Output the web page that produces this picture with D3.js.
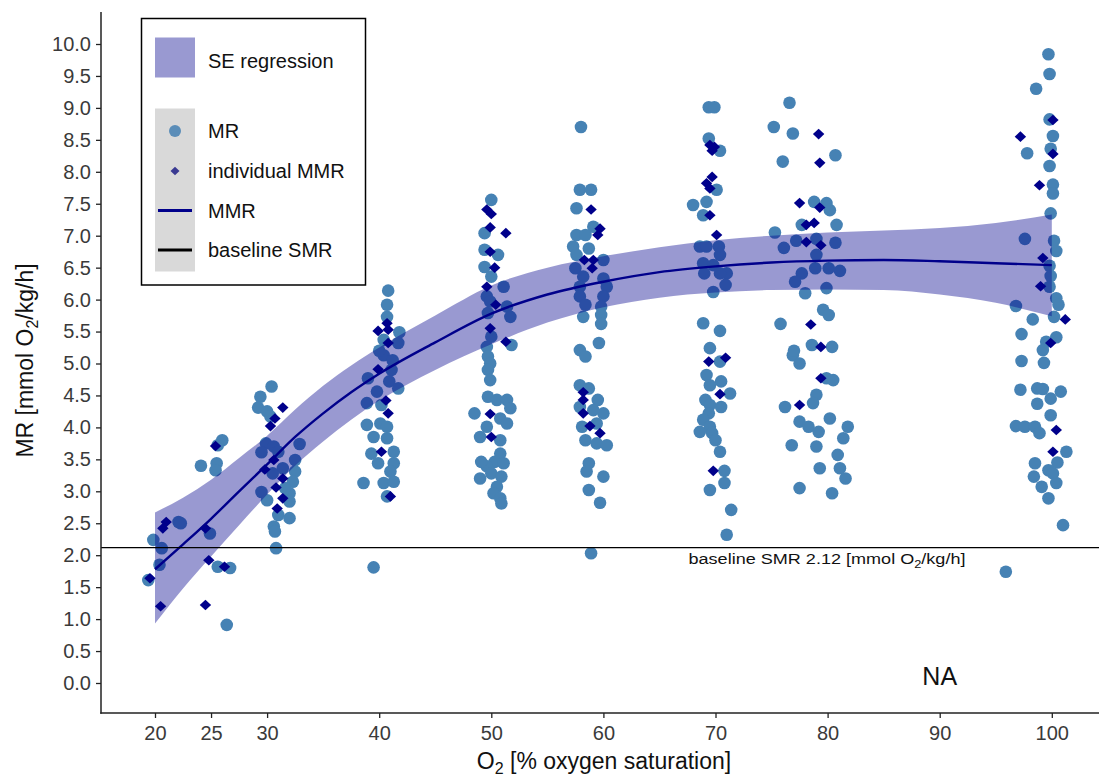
<!DOCTYPE html>
<html>
<head>
<meta charset="utf-8">
<script src="https://cdn.jsdelivr.net/npm/d3@7/dist/d3.min.js"></script>
<style>
  html, body { margin: 0; padding: 0; background: #fff; }
  svg { display: block; font-family: "Liberation Sans", Arial, sans-serif; }
</style>
</head>
<body>
<svg id="chart" width="1099" height="778"></svg>
<script>
// ---- data -------------------------------------------------------------
// Measured metabolic rate per trial: [O2 % saturation, MR mmol O2/kg/h]
const mrPoints = [
  [19.85,2.24],[20.6,2.11],[20.4,1.85],[19.4,1.61],[22.1,2.52],[22.3,2.50],[24.1,3.40],[25.5,3.44],
  [25.4,3.33],[26.0,3.80],[25.6,3.72],[24.9,2.34],[25.6,1.82],[26.7,1.80],[26.4,0.91],
  [30.4,4.64],[29.4,4.48],[29.2,4.31],[30.0,4.25],[30.3,4.17],[29.9,3.75],[30.6,3.70],[32.9,3.74],
  [32.5,3.49],[31.0,3.62],[31.4,3.36],[32.5,3.31],[32.3,3.15],[29.5,2.99],[30.0,2.86],[32.0,2.97],
  [32.0,2.84],[31.0,2.63],[32.0,2.58],[30.6,2.45],[30.7,2.37],[30.8,2.11],[29.5,3.61],[30.5,3.28],[31.6,3.05],
  [40.8,6.14],[40.7,5.92],[40.7,5.73],[41.8,5.49],[40.4,5.37],[41.7,5.32],[40.4,5.13],[41.1,4.90],
  [39.0,4.77],[40.9,4.72],[41.7,4.61],[39.8,4.56],[38.9,4.38],[40.2,4.35],[38.9,4.04],[40.1,4.06],
  [40.7,4.01],[39.5,3.85],[40.7,3.83],[41.3,3.62],[39.3,3.59],[39.9,3.44],[41.3,3.44],[41.0,3.31],
  [38.6,3.13],[40.4,3.13],[41.3,3.15],[40.7,2.92],[39.5,1.81],[41.2,5.05],[40.0,5.20],
  [50.0,7.56],[49.4,7.04],[49.4,6.78],[50.6,6.70],[49.4,6.51],[50.0,6.36],[51.1,6.20],[49.6,6.05],
  [49.9,5.97],[51.4,5.89],[49.7,5.79],[51.7,5.73],[50.0,5.42],[51.8,5.29],[49.6,5.26],[49.7,5.11],
  [49.9,5.00],[49.7,4.90],[49.9,4.74],[49.7,4.48],[50.5,4.43],[51.4,4.43],[51.7,4.30],[48.5,4.22],
  [50.8,4.14],[51.4,4.06],[49.6,4.01],[49.0,3.85],[50.8,3.80],[50.8,3.59],[50.3,3.46],[51.1,3.44],
  [49.6,3.39],[49.1,3.46],[49.0,3.20],[50.0,3.28],[50.9,3.23],[50.5,3.07],[50.2,2.97],[50.8,2.89],[50.9,2.81],
  [57.9,7.72],[58.9,7.72],[57.6,7.43],[59.1,7.14],[57.6,7.01],[58.4,7.01],[57.3,6.83],[58.7,6.80],
  [57.6,6.70],[60.0,6.62],[57.5,6.49],[58.2,6.36],[60.0,6.33],[57.9,6.20],[60.3,6.20],[57.9,6.05],
  [60.0,6.05],[58.4,5.92],[59.8,5.89],[58.2,5.73],[59.8,5.76],[59.8,5.62],[59.6,5.32],[57.9,5.21],
  [58.4,5.11],[57.9,4.66],[58.7,4.61],[59.5,4.43],[57.9,4.32],[60.0,4.22],[59.1,4.27],[59.4,4.06],
  [58.1,4.01],[58.4,3.80],[59.4,3.75],[60.3,3.72],[58.7,3.44],[58.5,3.31],[60.0,3.23],[58.7,3.02],
  [59.7,2.82],[58.9,2.03],[58.0,8.70],
  [69.4,9.01],[69.9,9.01],[69.4,8.52],[70.4,8.33],[70.1,7.72],[68.0,7.48],[69.2,7.53],[68.9,7.32],
  [68.6,6.83],[69.2,6.83],[70.3,6.83],[70.4,6.70],[68.9,6.57],[69.8,6.54],[71.0,6.41],[70.4,6.41],
  [69.0,6.41],[70.9,6.23],[69.8,6.12],[68.9,5.63],[70.4,5.51],[69.5,5.24],[70.4,5.03],[69.2,4.82],
  [70.5,4.72],[69.5,4.66],[71.3,4.53],[69.1,4.43],[69.5,4.35],[70.5,4.32],[69.4,4.22],[68.9,4.12],
  [69.5,4.01],[68.6,3.93],[69.7,3.91],[70.0,3.80],[70.4,3.62],[70.8,3.32],[70.8,3.13],[69.5,3.02],
  [71.4,2.71],[71.0,2.32],
  [76.6,9.08],[75.2,8.70],[76.9,8.60],[76.0,8.16],[80.7,8.26],[78.8,7.53],[79.9,7.51],[80.2,7.40],
  [77.7,7.17],[80.8,7.17],[75.3,7.05],[76.1,6.81],[77.2,6.92],[80.7,6.89],[79.0,6.70],[78.9,6.49],
  [80.1,6.49],[81.1,6.45],[77.7,6.41],[77.1,6.28],[78.0,6.10],[79.9,6.18],[79.6,5.84],[80.1,5.76],
  [75.8,5.62],[76.9,5.13],[77.5,5.00],[78.6,5.29],[80.4,5.26],[79.9,4.77],[80.5,4.74],[79.0,4.51],
  [78.7,4.38],[76.2,4.32],[77.5,4.09],[78.3,4.01],[79.2,3.93],[80.2,4.14],[81.8,4.01],[81.4,3.83],
  [76.8,3.72],[79.0,3.70],[80.9,3.57],[79.3,3.36],[81.1,3.36],[81.6,3.20],[77.5,3.05],[80.4,2.97],
  [79.0,6.95],[77.0,5.20],
  [99.7,9.84],[99.8,9.53],[98.6,9.30],[99.8,8.82],[100.1,8.56],[97.8,8.29],[99.9,8.36],[99.8,8.09],
  [100.1,7.80],[100.1,7.66],[99.9,7.35],[97.6,6.95],[100.2,6.92],[100.4,6.76],[99.8,6.53],[99.9,6.37],
  [99.8,6.20],[100.4,6.02],[100.6,5.92],[100.2,5.73],[96.8,5.90],[98.3,5.69],[97.3,5.46],[100.4,5.41],
  [99.5,5.34],[99.2,5.21],[97.3,5.04],[99.3,5.01],[97.2,4.59],[98.7,4.61],[99.2,4.60],[100.8,4.56],
  [99.9,4.45],[98.7,4.37],[99.9,4.19],[96.8,4.02],[97.6,4.01],[98.5,4.01],[98.9,3.91],[101.3,3.62],
  [100.5,3.45],[98.5,3.44],[99.7,3.33],[98.4,3.23],[100.1,3.28],[99.1,3.07],[100.4,3.13],[99.7,2.89],
  [101.0,2.47],[95.9,1.74]
];

// Individual maximum metabolic rates
const mmrPoints = [
  [21.0,2.52],[20.7,2.42],[24.5,2.42],[19.55,1.64],[20.5,1.20],[24.8,1.92],[26.2,1.82],[24.5,1.22],[25.4,3.71],
  [31.4,4.31],[30.7,4.14],[30.3,4.02],[30.6,3.49],[29.8,3.34],[31.4,3.20],[30.8,3.06],[31.4,2.89],[30.9,2.73],
  [39.9,5.51],[40.7,5.63],[40.8,5.53],[40.8,5.32],[39.9,4.91],[40.6,4.42],[40.8,4.22],[40.2,3.62],[41.0,2.92],
  [49.6,7.41],[50.0,7.34],[49.9,7.13],[51.3,7.04],[49.9,6.75],[50.3,6.50],[49.6,6.20],[50.4,5.92],
  [49.9,5.55],[51.3,5.34],[49.9,4.21],[50.0,3.85],
  [58.9,7.41],[59.7,7.11],[59.5,7.01],[58.3,6.62],[59.1,6.62],[59.0,6.49],[58.2,4.55],[58.2,4.43],
  [58.2,4.22],[58.8,4.02],[59.7,3.91],
  [69.5,8.42],[69.7,8.33],[69.9,8.39],[69.7,7.92],[69.2,7.82],[69.5,7.74],[69.5,7.32],[70.1,7.01],
  [69.4,5.03],[70.9,5.09],[70.4,4.52],[69.8,3.32],
  [79.2,8.59],[79.3,8.14],[77.5,7.51],[79.3,7.44],[78.1,7.17],[78.8,7.20],[78.1,6.90],[79.4,6.85],
  [78.5,5.61],[79.4,5.26],[79.4,4.77],[77.5,4.35],
  [100.1,8.81],[97.2,8.55],[100.1,8.28],[98.9,7.79],[99.2,6.65],[99.0,6.21],[101.2,5.69],[99.9,5.32],
  [100.4,3.96],[100.1,3.62]
];

// Fitted MMR curve with its standard-error ribbon
const fitX     = [20, 22.5, 25, 27.5, 30, 32.5, 35, 37.5, 40, 45, 50, 55, 60, 65, 70, 75, 80, 85, 90, 95, 100];
const fitMMR   = [1.78, 2.17, 2.57, 3.00, 3.42, 3.85, 4.22, 4.55, 4.84, 5.33, 5.78, 6.08, 6.28, 6.43, 6.52, 6.58, 6.61, 6.62, 6.60, 6.57, 6.54];
const fitUpper = [2.67, 2.90, 3.18, 3.52, 3.87, 4.28, 4.65, 4.97, 5.25, 5.75, 6.22, 6.50, 6.68, 6.82, 6.93, 7.00, 7.05, 7.08, 7.12, 7.20, 7.33];
const fitLower = [0.93, 1.48, 1.98, 2.47, 2.95, 3.40, 3.78, 4.12, 4.42, 4.90, 5.30, 5.64, 5.88, 6.03, 6.11, 6.15, 6.16, 6.15, 6.08, 5.95, 5.74];

const baselineSMR = 2.12;
const xTicks = [20, 25, 30, 40, 50, 60, 70, 80, 90, 100];
const yTicks = d3.range(0, 10.01, 0.5);

// ---- layout -----------------------------------------------------------
const svg = d3.select("#chart");
const panel = { left: 101, right: 1099, top: 12, bottom: 713 };

const x = d3.scaleLinear().domain([15.183, 104.21]).range([panel.left, panel.right]);
const y = d3.scaleLinear().domain([-0.4695, 10.5008]).range([panel.bottom, panel.top]);

const col = {
  mr: "#4682B4",
  mmr: "#00008B",
  band: "#00008B",
  axis: "#222",
  tick: "#3a3a3a"
};

const plot = svg.append("g");

// MR observations
plot.append("g").selectAll("circle")
  .data(mrPoints)
  .join("circle")
  .attr("cx", d => x(d[0]))
  .attr("cy", d => y(d[1]))
  .attr("r", 6.3)
  .attr("fill", col.mr);

// individual MMR diamonds
const diamond = (cx, cy, hw, hh) => `M${cx},${cy - hh}L${cx + hw},${cy}L${cx},${cy + hh}L${cx - hw},${cy}Z`;
plot.append("g").selectAll("path")
  .data(mmrPoints)
  .join("path")
  .attr("d", d => diamond(x(d[0]), y(d[1]), 5.7, 5.3))
  .attr("fill", col.mmr);

// SE ribbon
const fit = fitX.map((v, i) => ({ x: v, m: fitMMR[i], lo: fitLower[i], hi: fitUpper[i] }));
plot.append("path")
  .datum(fit)
  .attr("d", d3.area().x(d => x(d.x)).y0(d => y(d.lo)).y1(d => y(d.hi)).curve(d3.curveMonotoneX))
  .attr("fill", col.band)
  .attr("fill-opacity", 0.4);

// fitted MMR line
plot.append("path")
  .datum(fit)
  .attr("d", d3.line().x(d => x(d.x)).y(d => y(d.m)).curve(d3.curveMonotoneX))
  .attr("fill", "none")
  .attr("stroke", col.mmr)
  .attr("stroke-width", 2.4);

// baseline SMR
plot.append("line")
  .attr("x1", panel.left).attr("x2", panel.right)
  .attr("y1", y(baselineSMR)).attr("y2", y(baselineSMR))
  .attr("stroke", "#000").attr("stroke-width", 1.3);

const smrLabel = plot.append("text")
  .attr("x", 827)
  .attr("y", y(baselineSMR) + 16)
  .attr("text-anchor", "middle")
  .attr("font-family", "'Liberation Sans Narrow', 'Liberation Sans', Arial, sans-serif")
  .attr("font-size", 15.5)
  .attr("fill", "#111")
  .attr("textLength", 277)
  .attr("lengthAdjust", "spacingAndGlyphs");
smrLabel.append("tspan").text(`baseline SMR ${baselineSMR} [mmol O`);
smrLabel.append("tspan").attr("font-size", 11).attr("dy", 4).text("2");
smrLabel.append("tspan").attr("dy", -4).text("/kg/h]");

// panel tag
plot.append("text")
  .attr("x", x(90))
  .attr("y", 685)
  .attr("text-anchor", "middle")
  .attr("font-size", 25)
  .attr("fill", "#111")
  .text("NA");

// ---- axes -------------------------------------------------------------
const yAxis = svg.append("g")
  .attr("transform", `translate(${panel.left},0)`)
  .call(d3.axisLeft(y).tickValues(yTicks).tickFormat(d3.format(".1f")).tickSize(5).tickPadding(5));
const xAxis = svg.append("g")
  .attr("transform", `translate(0,${panel.bottom})`)
  .call(d3.axisBottom(x).tickValues(xTicks).tickSize(5).tickPadding(8));

[yAxis, xAxis].forEach(g => {
  g.select(".domain").remove();
  g.selectAll(".tick line").attr("stroke", col.axis).attr("stroke-width", 1.3);
  g.selectAll(".tick text")
    .attr("fill", col.tick)
    .attr("font-size", 20)
    .attr("font-family", "'Liberation Sans', Arial, sans-serif");
});

svg.append("line")
  .attr("x1", panel.left).attr("x2", panel.left)
  .attr("y1", panel.top).attr("y2", panel.bottom + 0.75)
  .attr("stroke", col.axis).attr("stroke-width", 1.5);
svg.append("line")
  .attr("x1", panel.left - 0.75).attr("x2", panel.right)
  .attr("y1", panel.bottom).attr("y2", panel.bottom)
  .attr("stroke", col.axis).attr("stroke-width", 1.5);

// axis titles
const xTitle = svg.append("text")
  .attr("x", 604)
  .attr("y", 769)
  .attr("text-anchor", "middle")
  .attr("font-size", 23)
  .attr("fill", "#111");
xTitle.append("tspan").text("O");
xTitle.append("tspan").attr("font-size", 16).attr("dy", 5).text("2");
xTitle.append("tspan").attr("dy", -5).text(" [% oxygen saturation]");

const yTitle = svg.append("text")
  .attr("transform", `translate(33,${(panel.top + panel.bottom) / 2 - 2}) rotate(-90)`)
  .attr("text-anchor", "middle")
  .attr("font-size", 23)
  .attr("fill", "#111");
yTitle.append("tspan").text("MR [mmol O");
yTitle.append("tspan").attr("font-size", 16).attr("dy", 5).text("2");
yTitle.append("tspan").attr("dy", -5).text("/kg/h]");

// ---- legend -----------------------------------------------------------
const lg = svg.append("g");
lg.append("rect")
  .attr("x", 141.5).attr("y", 18.5).attr("width", 224).attr("height", 266.5)
  .attr("fill", "#fff").attr("stroke", "#000").attr("stroke-width", 1.5);

lg.append("rect").attr("x", 155).attr("y", 37.5).attr("width", 40).attr("height", 40)
  .attr("fill", col.band).attr("fill-opacity", 0.4);
lg.append("text").attr("x", 208).attr("y", 61).attr("dy", "0.35em")
  .attr("font-size", 20).attr("fill", "#111").text("SE regression");

lg.append("rect").attr("x", 155).attr("y", 108.5).attr("width", 40).attr("height", 163)
  .attr("fill", "#d9d9d9");

const legendRows = ["MR", "individual MMR", "MMR", "baseline SMR"];
const rowY = [131, 171, 210.5, 250];
lg.append("circle").attr("cx", 175).attr("cy", rowY[0]).attr("r", 6).attr("fill", "#5b8db8");
lg.append("path").attr("d", diamond(175, rowY[1], 4.5, 4.2)).attr("fill", "#3a3a92");
lg.append("line").attr("x1", 158).attr("x2", 192).attr("y1", rowY[2]).attr("y2", rowY[2])
  .attr("stroke", col.mmr).attr("stroke-width", 3);
lg.append("line").attr("x1", 158).attr("x2", 192).attr("y1", rowY[3]).attr("y2", rowY[3])
  .attr("stroke", "#000").attr("stroke-width", 3);
lg.selectAll("text.row")
  .data(legendRows)
  .join("text")
  .attr("class", "row")
  .attr("x", 208)
  .attr("y", (d, i) => rowY[i])
  .attr("dy", "0.35em")
  .attr("font-size", 20)
  .attr("fill", "#111")
  .text(d => d);
</script>
</body>
</html>
